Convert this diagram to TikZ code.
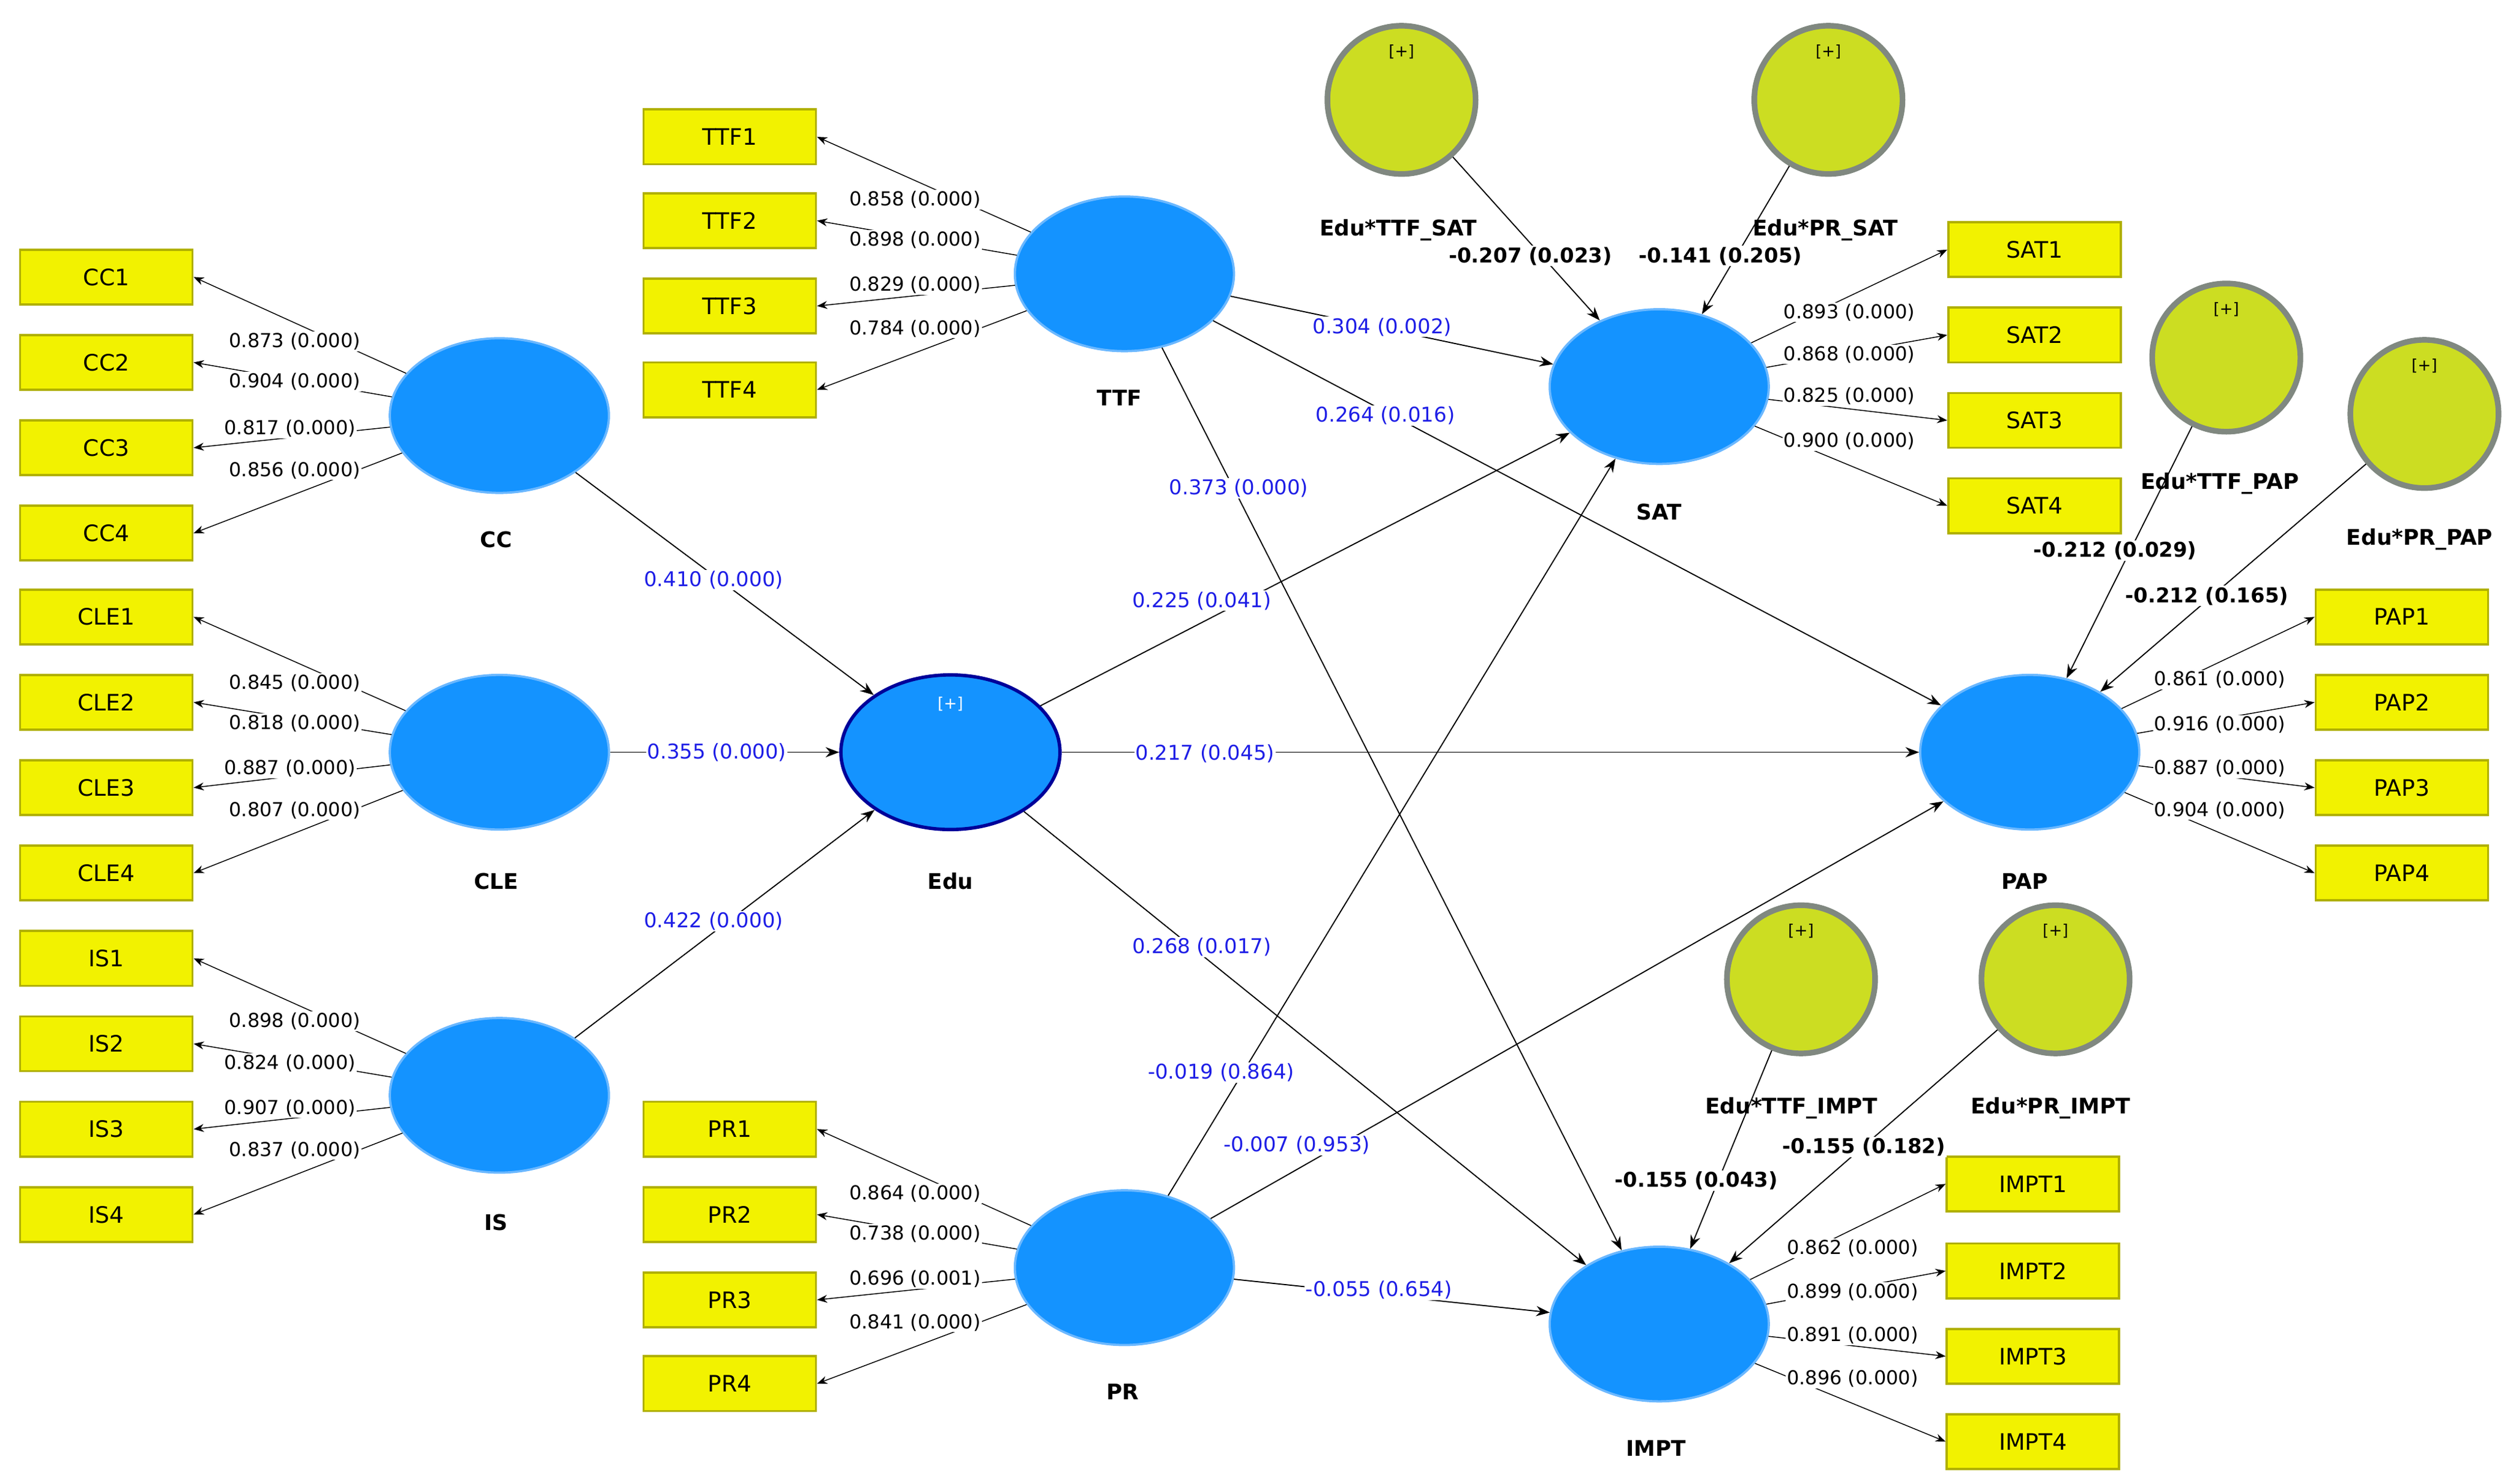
\documentclass[tikz,border=0pt]{standalone}
\usepackage{fontspec}
\setmainfont{DejaVu Sans}
\usetikzlibrary{arrows.meta,shapes.geometric}
\definecolor{ind}{HTML}{F2F200}
\definecolor{indb}{HTML}{B0B000}
\definecolor{lat}{HTML}{1493FF}
\definecolor{latb}{HTML}{6BB8FF}
\definecolor{modf}{HTML}{CCDD22}
\definecolor{modb}{HTML}{808880}
\definecolor{pth}{HTML}{1E1EE6}
\tikzset{
 box/.style={draw=indb,line width=2pt,fill=ind,minimum width=107*0.05cm,minimum height=34*0.05cm,inner sep=0,font=\fontsize{20}{24}\selectfont},
 lv/.style={ellipse,draw=latb,line width=2pt,fill=lat,minimum width=136*0.05cm,minimum height=96*0.05cm,inner sep=0},
 mod/.style={circle,draw=modb,line width=5pt,fill=modf,minimum size=92*0.05cm,inner sep=0},
 plus/.style={font=\fontsize{14}{16}\selectfont},
 lvl/.style={font=\bfseries\fontsize{19}{22}\selectfont},
 ld/.style={fill=white,inner sep=1pt,font=\fontsize{17}{20}\selectfont},
 pl/.style={fill=white,inner sep=1pt,text=pth,font=\fontsize{18}{21}\selectfont},
 ml/.style={fill=white,inner sep=1pt,font=\bfseries\fontsize{18}{21}\selectfont},
 ar/.style={-{Stealth[length=12pt,width=9pt]},line width=1pt},
 sar/.style={-{Stealth[length=9pt,width=7pt]},line width=0.8pt},
}
\begin{document}
\begin{tikzpicture}[x=0.05cm,y=-0.05cm]
\useasboundingbox[fill=white] (0,0) rectangle (1560,921);
% indicator boxes
\foreach \n/\x/\y in {CC1/66/172,CC2/66/225,CC3/66/278,CC4/66/331,CLE1/66/383,CLE2/66/436,CLE3/66/489,CLE4/66/542,IS1/66/595,IS2/66/648,IS3/66/701,IS4/66/754,TTF1/453/85,TTF2/453/137,TTF3/453/190,TTF4/453/242,PR1/453/701,PR2/453/754,PR3/453/807,PR4/453/859,SAT1/1263/155,SAT2/1263/208,SAT3/1263/261,SAT4/1263/314,PAP1/1491/383,PAP2/1491/436,PAP3/1491/489,PAP4/1491/542,IMPT1/1262/735,IMPT2/1262/789,IMPT3/1262/842,IMPT4/1262/895}
  \node[box] (\n) at (\x,\y) {\n};
% latent variables
\node[lv] (CC) at (310,258) {};
\node[lv] (CLE) at (310,467) {};
\node[lv] (IS) at (310,680) {};
\node[lv,draw=blue!60!black,line width=3pt] (Edu) at (590,467) {};
\node[plus,text=white] at (590,437) {[+]};
\node[lv] (TTF) at (698,170) {};
\node[lv] (PR) at (698,787) {};
\node[lv] (SAT) at (1030,240) {};
\node[lv] (PAP) at (1260,467) {};
\node[lv] (IMPT) at (1030,822) {};
\node[lvl] (lCC) at (308,335) {CC};
\node[lvl] (lCLE) at (308,547) {CLE};
\node[lvl] (lIS) at (308,759) {IS};
\node[lvl] (lEdu) at (590,547) {Edu};
\node[lvl] (lTTF) at (695,247) {TTF};
\node[lvl] (lPR) at (697,864) {PR};
\node[lvl] (lSAT) at (1030,318) {SAT};
\node[lvl] (lPAP) at (1257,547) {PAP};
\node[lvl] (lIMPT) at (1028,899) {IMPT};
% moderators
\foreach \n/\x/\y/\lx/\ly in {m1/870/62/868/143,m2/1135/62/1133/143,m3/1382/222/1378/300,m4/1505/257/1502/335,m5/1118/608/1112/688,m6/1276/608/1273/688}{
  \node[mod] (\n) at (\x,\y) {};
  \node[plus] at (\x,{\y-30}) {[+]};
}
% reflective arrows
\foreach \l/\i in {CC/CC1,CC/CC2,CC/CC3,CC/CC4,CLE/CLE1,CLE/CLE2,CLE/CLE3,CLE/CLE4,IS/IS1,IS/IS2,IS/IS3,IS/IS4,TTF/TTF1,TTF/TTF2,TTF/TTF3,TTF/TTF4,PR/PR1,PR/PR2,PR/PR3,PR/PR4}
  \draw[sar] (\l) -- (\i.east);
\foreach \l/\i in {SAT/SAT1,SAT/SAT2,SAT/SAT3,SAT/SAT4,PAP/PAP1,PAP/PAP2,PAP/PAP3,PAP/PAP4,IMPT/IMPT1,IMPT/IMPT2,IMPT/IMPT3,IMPT/IMPT4}
  \draw[sar] (\l) -- (\i.west);
% structural paths
\foreach \a/\b in {CC/Edu,CLE/Edu,IS/Edu,Edu/SAT,Edu/PAP,Edu/IMPT,TTF/SAT,TTF/PAP,TTF/IMPT,PR/SAT,PR/PAP,PR/IMPT,m1/SAT,m2/SAT,m3/PAP,m4/PAP,m5/IMPT,m6/IMPT}
  \draw[ar] (\a) -- (\b);
% moderator names
\node[lvl] at (868,143) {Edu*TTF\_SAT};
\node[lvl] at (1133,143) {Edu*PR\_SAT};
\node[lvl] at (1378,300) {Edu*TTF\_PAP};
\node[lvl] at (1502,335) {Edu*PR\_PAP};
\node[lvl] at (1112,688) {Edu*TTF\_IMPT};
\node[lvl] at (1273,688) {Edu*PR\_IMPT};
% loadings
\foreach \x/\y/\t in {183/212/0.873,183/237/0.904,180/266/0.817,183/292/0.856,
 183/424/0.845,183/449/0.818,180/477/0.887,183/503/0.807,
 183/634/0.898,180/660/0.824,180/688/0.907,183/714/0.837,
 568/124/0.858,568/149/0.898,568/177/0.829,568/204/0.784,
 1148/194/0.893,1148/220/0.868,1148/246/0.825,1148/274/0.900,
 1378/422/0.861,1378/450/0.916,1378/477/0.887,1378/503/0.904,
 1150/775/0.862,1150/802/0.899,1150/829/0.891,1150/856/0.896}
  \node[ld] at (\x,\y) {\t{} (0.000)};
\node[ld] at (568,741) {0.864 (0.000)};
\node[ld] at (568,766) {0.738 (0.000)};
\node[ld] at (568,794) {0.696 (0.001)};
\node[ld] at (568,821) {0.841 (0.000)};
% path coefficients
\node[pl] at (443,360) {0.410 (0.000)};
\node[pl] at (445,467) {0.355 (0.000)};
\node[pl] at (443,572) {0.422 (0.000)};
\node[pl] at (746,373) {0.225 (0.041)};
\node[pl] at (748,468) {0.217 (0.045)};
\node[pl] at (746,588) {0.268 (0.017)};
\node[pl] at (858,203) {0.304 (0.002)};
\node[pl] at (860,258) {0.264 (0.016)};
\node[pl] at (769,303) {0.373 (0.000)};
\node[pl] at (758,666) {-0.019 (0.864)};
\node[pl] at (805,711) {-0.007 (0.953)};
\node[pl] at (856,801) {-0.055 (0.654)};
\node[ml] at (950,159) {-0.207 (0.023)};
\node[ml] at (1068,159) {-0.141 (0.205)};
\node[ml] at (1313,342) {-0.212 (0.029)};
\node[ml] at (1370,370) {-0.212 (0.165)};
\node[ml] at (1053,733) {-0.155 (0.043)};
\node[ml] at (1157,712) {-0.155 (0.182)};
\end{tikzpicture}
\end{document}
